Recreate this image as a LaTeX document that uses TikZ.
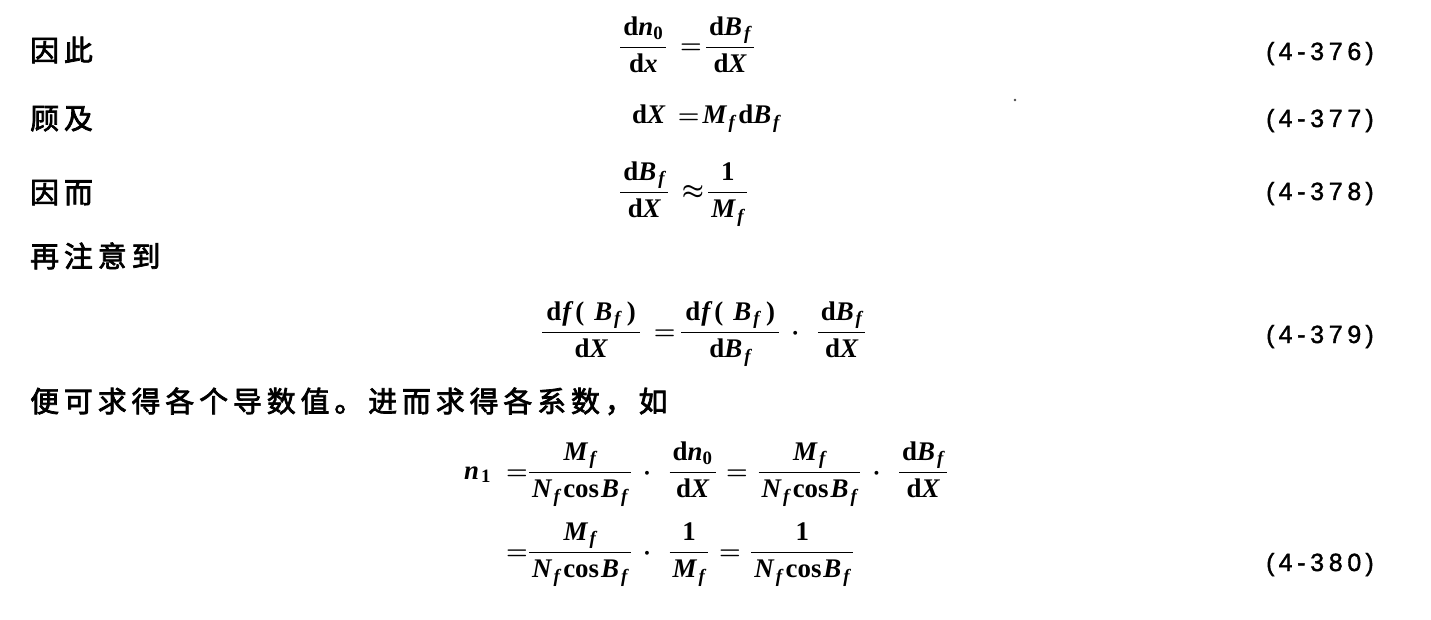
\documentclass[tikz,border=0pt]{standalone}
\usepackage{amsmath}
\usepackage{fontspec}
\setmainfont{Liberation Serif}
\newfontfamily\cjk{Noto Sans CJK SC}[LetterSpace=17,FakeBold=2.5]
\newfontfamily\numfont{Liberation Sans}[LetterSpace=19,FakeBold=1.5]
\tikzset{
  cn/.style={anchor=base west, inner sep=0pt, font=\fontsize{29}{34}\selectfont\cjk},
  eq/.style={anchor=base west, inner sep=0pt, font=\fontsize{27}{32}\selectfont\boldmath},
  num/.style={anchor=base west, inner sep=0pt, font=\fontsize{25}{29}\selectfont\numfont},
}
\newcommand{\I}[1]{\text{\bfseries\itshape #1}}
\newcommand{\R}[1]{\text{\bfseries #1}}
\newcommand{\dd}{\R{d}}
\newcommand{\Bf}{\I{B}_{\kern2bp\I{f}}}
\newcommand{\Mf}{\I{M}_{\kern2bp\I{f}}}
\newcommand{\Nf}{\I{N}_{\kern2bp\I{f}}}
\newcommand{\cosf}{\kern3bp\R{cos}\kern2bp}
\newcommand{\fr}[2]{\dfrac{\kern3bp#1\kern3bp}{\kern3bp#2\kern3bp}}
\newcommand{\fB}{\dd\kern1bp\I{f}\kern4bp\R{(}\kern10bp\Bf\kern6bp\R{)}}
\newcommand{\eqs}{\mskip8mu{=}\mskip2mu}
\newcommand{\eqm}{\mskip6mu{=}\mskip6mu}
\newcommand{\dt}{\mskip7mu{\cdot}\mskip11mu}
\begin{document}
\begin{tikzpicture}[x=1bp,y=-1bp]
\useasboundingbox[fill=white] (0,0) rectangle (1431,620);
% labels
\node[cn] (t1) at (30,61) {因此};
\node[cn] (t2) at (30,129) {顾及};
\node[cn] (t3) at (30,203) {因而};
\node[cn] (t4) at (30,267) {再注意到};
\node[cn] (t5) at (30,412) {便可求得各个导数值。进而求得各系数，如};
% equations
\node[eq] (e1) at (619,54) {$\fr{\dd\I{n}_{\R{0}}}{\dd\I{x}}\eqs\fr{\dd\Bf}{\dd\I{X}}$};
\node[eq] (e2) at (632,124) {$\dd\I{X}\mskip8mu{=}\mskip2mu\Mf\kern3bp\dd\Bf$};
\node[eq] (e3) at (619,199) {$\fr{\dd\Bf}{\dd\I{X}}\mskip8mu{\approx}\mskip2mu\fr{\R{1}}{\Mf}$};
\node[eq] (e4) at (541,339) {$\dfrac{\kern4bp\fB\kern4bp}{\dd\I{X}}\mskip8mu{=}\mskip3mu\dfrac{\kern4bp\fB\kern4bp}{\dd\Bf}\mskip7mu{\cdot}\mskip11mu\fr{\dd\Bf}{\dd\I{X}}$};
\node[eq] (e5l) at (464,479) {$\I{n}_{\kern2bp\R{1}}$};
\node[eq] (e5) at (506,479) {${=}\fr{\Mf}{\Nf\cosf\Bf}\dt\fr{\dd\I{n}_{\R{0}}}{\dd\I{X}}\eqm\fr{\Mf}{\Nf\cosf\Bf}\dt\fr{\dd\Bf}{\dd\I{X}}$};
\node[eq] (e6) at (506,559) {${=}\fr{\Mf}{\Nf\cosf\Bf}\dt\fr{\R{1}}{\Mf}\eqm\fr{\R{1}}{\Nf\cosf\Bf}$};
% equation numbers
\node[num] (n1) at (1266,60) {(\,4-376\,)};
\node[num] (n2) at (1266,127) {(\,4-377\,)};
\node[num] (n3) at (1266,200) {(\,4-378\,)};
\node[num] (n4) at (1266,343) {(\,4-379\,)};
\node[num] (n5) at (1266,571) {(\,4-380\,)};
% stray dot
\fill[black!70] (1015,100) circle (1.3);
\end{tikzpicture}
\end{document}
